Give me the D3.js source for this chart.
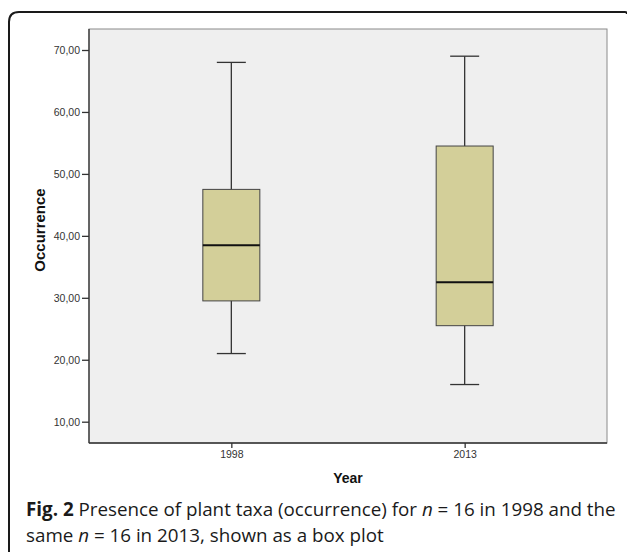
<!DOCTYPE html>
<html><head><meta charset="utf-8">
<script src="https://cdn.jsdelivr.net/npm/d3@7"></script>
<style>body{margin:0;background:#fff;}svg{display:block;}</style>
</head><body>
<svg id="c" width="627" height="552"></svg>
<script>
const years = ["1998", "2013"];
const whiskerLow = [21, 16];
const q1 = [29.5, 25.5];
const median = [38.5, 32.5];
const q3 = [47.5, 54.5];
const whiskerHigh = [68, 69];
const yTicks = [10, 20, 30, 40, 50, 60, 70];

const svg = d3.select("#c");
// card frame
svg.append("path")
  .attr("d", "M9,552 L9,22 Q9,12 19,12 L625,12 Q627,12 627,14")
  .attr("fill", "none").attr("stroke", "#1a1a1a").attr("stroke-width", 2);

const L = 89, R = 607, T = 29, B = 443;
const y = d3.scaleLinear().domain([10, 70]).range([421.7, 50]);
const x = d3.scalePoint().domain(years).range([L, R]).padding(0.61);

svg.append("rect").attr("x", L).attr("y", T).attr("width", R - L).attr("height", B - T)
  .attr("fill", "#efefef").attr("stroke", "#8a8a8a").attr("stroke-width", 1);

const data = years.map((k, i) => ({k, lo: whiskerLow[i], q1: q1[i], med: median[i], q3: q3[i], hi: whiskerHigh[i]}));
const bw = 57, cw = 29;
const g = svg.append("g").selectAll("g").data(data).join("g");
g.append("line").attr("x1", d => x(d.k)).attr("x2", d => x(d.k))
  .attr("y1", d => y(d.hi)).attr("y2", d => y(d.lo)).attr("stroke", "#333").attr("stroke-width", 1.3);
g.append("line").attr("x1", d => x(d.k) - cw/2).attr("x2", d => x(d.k) + cw/2)
  .attr("y1", d => y(d.hi)).attr("y2", d => y(d.hi)).attr("stroke", "#333").attr("stroke-width", 1.3);
g.append("line").attr("x1", d => x(d.k) - cw/2).attr("x2", d => x(d.k) + cw/2)
  .attr("y1", d => y(d.lo)).attr("y2", d => y(d.lo)).attr("stroke", "#333").attr("stroke-width", 1.3);
g.append("rect").attr("x", d => x(d.k) - bw/2).attr("width", bw)
  .attr("y", d => y(d.q3)).attr("height", d => y(d.q1) - y(d.q3))
  .attr("fill", "#d3cf99").attr("stroke", "#444").attr("stroke-width", 1);
g.append("line").attr("x1", d => x(d.k) - bw/2).attr("x2", d => x(d.k) + bw/2)
  .attr("y1", d => y(d.med)).attr("y2", d => y(d.med)).attr("stroke", "#111").attr("stroke-width", 2);

// axes
const yAxis = d3.axisLeft(y).tickValues(yTicks).tickSize(7).tickPadding(2)
  .tickFormat(d => d3.format(".2f")(d).replace(".", ","));
const ya = svg.append("g").attr("transform", `translate(${L},0)`).call(yAxis);
ya.select(".domain").attr("d", `M0,${T}V${B}`).attr("stroke", "#333").attr("stroke-width", 1.3);
ya.selectAll(".tick line").attr("stroke", "#333").attr("stroke-width", 1.3);
ya.selectAll("text").attr("font-family", "Liberation Sans, Arial, sans-serif").attr("font-size", 10.5).attr("fill", "#333");

const xAxis = d3.axisBottom(x).tickSize(5).tickPadding(3);
const xa = svg.append("g").attr("transform", `translate(0,${B})`).call(xAxis);
xa.select(".domain").attr("d", `M${L},0H${R}`).attr("stroke", "#333").attr("stroke-width", 1.3);
xa.selectAll(".tick line").attr("stroke", "#333").attr("stroke-width", 1.3);
xa.selectAll("text").attr("font-family", "Liberation Sans, Arial, sans-serif").attr("font-size", 10.5).attr("fill", "#333");

svg.append("text").attr("transform", `translate(45,${(T + B) / 2 - 6}) rotate(-90)`)
  .attr("text-anchor", "middle").attr("font-family", "Liberation Sans, Arial, sans-serif")
  .attr("font-weight", "bold").attr("font-size", 15).attr("fill", "#111").text("Occurrence");
svg.append("text").attr("x", (L + R) / 2).attr("y", 483)
  .attr("text-anchor", "middle").attr("font-family", "Liberation Sans, Arial, sans-serif")
  .attr("font-weight", "bold").attr("font-size", 14).attr("fill", "#111").text("Year");

// caption
const cap = svg.append("g").attr("font-family", "Open Sans, sans-serif").attr("font-size", 18.8).attr("fill", "#1a1a1a");
const t1 = cap.append("text").attr("x", 26).attr("y", 516);
t1.append("tspan").attr("font-weight", "bold").text("Fig. 2");
t1.append("tspan").text(" Presence of plant taxa (occurrence) for ");
t1.append("tspan").attr("font-style", "italic").text("n");
t1.append("tspan").text(" = 16 in 1998 and the");
const t2 = cap.append("text").attr("x", 26).attr("y", 542);
t2.append("tspan").text("same ");
t2.append("tspan").attr("font-style", "italic").text("n");
t2.append("tspan").text(" = 16 in 2013, shown as a box plot");
</script>
</body></html>
